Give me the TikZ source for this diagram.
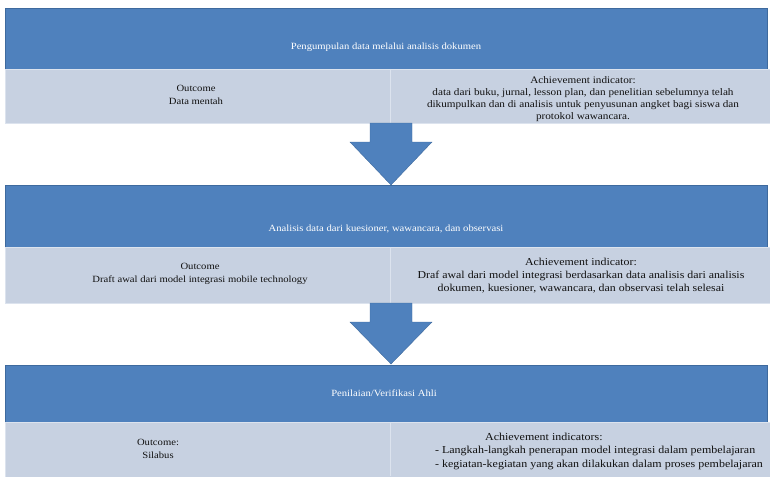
\documentclass[tikz,border=0pt]{standalone}
\usepackage{fontspec}
\setmainfont[FakeStretch=1.12]{Liberation Serif}
\usetikzlibrary{calc}
\definecolor{hdr}{HTML}{4F81BD}
\definecolor{hdredge}{HTML}{3E6A9E}
\definecolor{rowc}{HTML}{C7D1E1}
\definecolor{rowedge}{HTML}{DCE3EE}
\definecolor{txt}{HTML}{111111}
\begin{document}
\begin{tikzpicture}[x=1pt,y=-1pt,
  header/.style={fill=hdr, draw=hdredge, line width=0.5pt, anchor=north west, minimum width=762pt, inner sep=0pt},
  rowbox/.style={fill=rowc, draw=rowedge, line width=0.6pt, anchor=north west, minimum width=765pt, inner sep=0pt},
  htext/.style={text=white, font=\fontsize{9.5}{12}\selectfont, align=center, inner sep=1pt},
  rtext/.style={text=txt, font=\fontsize{9.5}{12.5}\selectfont, align=center, inner sep=1pt},
  blockarrow/.style={fill=hdr, draw=hdredge, line width=0.4pt}
]
\useasboundingbox (0,0) rectangle (770,476);

% Band 1
\node[header, minimum height=61pt] (h1) at (5,8) {};
\node[rowbox, minimum height=54pt] (r1) at (5,69) {};
\draw[rowedge, line width=0.8pt] (390,69) coordinate (d1a) -- (390,123) coordinate (d1b);
\node[htext] (t1) at (386,47) {Pengumpulan data melalui analisis dokumen};
\node[rtext] (o1) at (196,95) {Outcome\\Data mentah};
\node[rtext, font=\fontsize{10}{12}\selectfont] (a1) at (583,99) {Achievement indicator:\\data dari buku, jurnal, lesson plan, dan penelitian sebelumnya telah\\dikumpulkan dan di analisis untuk penyusunan angket bagi siswa dan\\protokol wawancara.};

% Band 2
\node[header, minimum height=62pt] (h2) at (5,185) {};
\node[rowbox, minimum height=56pt] (r2) at (5,247) {};
\draw[rowedge, line width=0.8pt] (390,247) coordinate (d2a) -- (390,303) coordinate (d2b);
\node[htext] (t2) at (386,229) {Analisis data dari kuesioner, wawancara, dan observasi};
\node[rtext] (o2) at (200,274) {Outcome\\Draft awal dari model integrasi mobile technology};
\node[rtext, font=\fontsize{10.6}{13}\selectfont] (a2) at (581,276) {Achievement indicator:\\Draf awal dari model integrasi berdasarkan data analisis dari analisis\\dokumen, kuesioner, wawancara, dan observasi telah selesai};

% Band 3
\node[header, minimum height=57pt] (h3) at (5,365) {};
\node[rowbox, minimum height=60pt] (r3) at (5,422) {};
\draw[rowedge, line width=0.8pt] (390,422) coordinate (d3a) -- (390,476) coordinate (d3b);
\node[htext] (t3) at (384,393) {Penilaian/Verifikasi Ahli};
\node[rtext] (o3) at (158,449) {Outcome:\\Silabus};
\node[rtext, align=left, font=\fontsize{10.7}{13.5}\selectfont] (a3) at (599,451) {\hspace*{50pt}Achievement indicators:\\- Langkah-langkah penerapan model integrasi dalam pembelajaran\\- kegiatan-kegiatan yang akan dilakukan dalam proses pembelajaran};

% Block arrows
\coordinate (tip1) at (391,185);
\coordinate (top1) at (391,123);
\fill[blockarrow] ($(top1)+(-21,0)$) -- ($(top1)+(21,0)$) -- ($(top1)+(21,19)$) -- ($(top1)+(41,19)$) -- (tip1) -- ($(top1)+(-41,19)$) -- ($(top1)+(-21,19)$) -- cycle;
\coordinate (tip2) at (391,364);
\coordinate (top2) at (391,303);
\fill[blockarrow] ($(top2)+(-21,0)$) -- ($(top2)+(21,0)$) -- ($(top2)+(21,19)$) -- ($(top2)+(41,19)$) -- (tip2) -- ($(top2)+(-41,19)$) -- ($(top2)+(-21,19)$) -- cycle;
\end{tikzpicture}
\end{document}
